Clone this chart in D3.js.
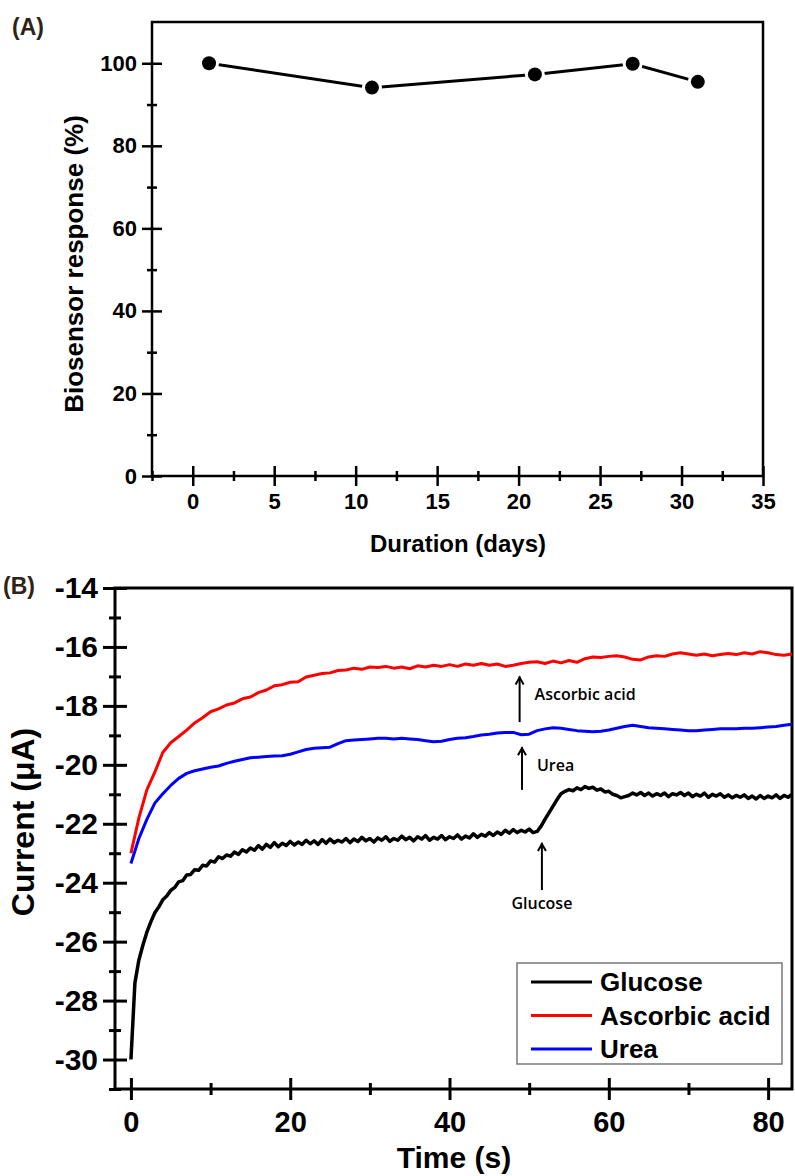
<!DOCTYPE html>
<html>
<head>
<meta charset="utf-8">
<script src="https://cdn.jsdelivr.net/npm/d3@7/dist/d3.min.js"></script>
<style>
  body { margin: 0; background: #fff; }
  svg { display: block; }
  text { font-family: "Liberation Sans", Arial, sans-serif; font-weight: bold; fill: #000; }
  .note { font-family: "Open Sans", sans-serif; font-weight: 600; }
</style>
</head>
<body>
<svg id="chart" width="795" height="1176"></svg>
<script>
// ---- panel A : storage stability ----
const stabilityDays = [1, 11, 21, 27, 31];
const stabilityResponse = [100, 94.1, 97.3, 99.9, 95.5];
const dayTicks = [0, 5, 10, 15, 20, 25, 30, 35];
const dayMinorTicks = [-2.5, 2.5, 7.5, 12.5, 17.5, 22.5, 27.5, 32.5];
const responseTicks = [0, 20, 40, 60, 80, 100];
const responseMinorTicks = [10, 30, 50, 70, 90];

// ---- panel B : interference (amperometric current) ----
const seriesNames = ['Glucose', 'Ascorbic acid', 'Urea'];
const seriesColors = ['#000000', '#ff0000', '#0000ff'];
const glucoseStep = 0.5; // s between samples
const glucoseCurrent = [
  -30.00, -27.40, -26.62, -26.12, -25.68, -25.33, -25.02, -24.82, -24.58, -24.45,
  -24.26, -24.16, -23.97, -23.93, -23.74, -23.72, -23.56, -23.58, -23.41, -23.43,
  -23.26, -23.30, -23.12, -23.18, -23.06, -23.10, -22.96, -23.04, -22.88, -22.96,
  -22.82, -22.90, -22.74, -22.86, -22.70, -22.80, -22.64, -22.78, -22.66, -22.74,
  -22.60, -22.72, -22.62, -22.70, -22.56, -22.68, -22.58, -22.70, -22.54, -22.66,
  -22.52, -22.64, -22.56, -22.62, -22.50, -22.64, -22.52, -22.60, -22.46, -22.58,
  -22.50, -22.62, -22.48, -22.56, -22.44, -22.60, -22.50, -22.56, -22.42, -22.54,
  -22.46, -22.58, -22.44, -22.52, -22.40, -22.56, -22.46, -22.52, -22.40, -22.54,
  -22.44, -22.50, -22.38, -22.52, -22.42, -22.48, -22.34, -22.46, -22.36, -22.42,
  -22.30, -22.40, -22.28, -22.36, -22.22, -22.32, -22.20, -22.30, -22.22, -22.28,
  -22.18, -22.30, -22.26, -22.08, -21.84, -21.62, -21.40, -21.18, -20.98, -20.90,
  -20.84, -20.88, -20.78, -20.84, -20.74, -20.80, -20.76, -20.86, -20.82, -20.92,
  -20.90, -21.00, -21.04, -21.12, -21.08, -21.04, -20.96, -21.02, -20.94, -21.04,
  -20.96, -21.06, -20.98, -21.04, -20.96, -21.08, -20.98, -21.02, -20.94, -21.04,
  -20.96, -21.08, -21.00, -21.06, -20.96, -21.10, -21.00, -21.06, -20.98, -21.10,
  -21.02, -21.12, -21.04, -21.10, -21.02, -21.14, -21.06, -21.16, -21.04, -21.14,
  -21.06, -21.12, -21.02, -21.14, -21.04, -21.10, -21.00
];
const interferentStep = 1; // s between samples
const ascorbicCurrent = [
  -23.00, -21.80, -20.85, -20.25, -19.58, -19.25, -19.04, -18.82, -18.58, -18.40,
  -18.20, -18.10, -17.97, -17.90, -17.76, -17.70, -17.55, -17.46, -17.32, -17.28,
  -17.20, -17.18, -17.02, -16.96, -16.90, -16.88, -16.80, -16.78, -16.72, -16.76,
  -16.68, -16.70, -16.66, -16.72, -16.68, -16.74, -16.64, -16.68, -16.62, -16.66,
  -16.60, -16.66, -16.58, -16.62, -16.56, -16.62, -16.58, -16.66, -16.62, -16.56,
  -16.52, -16.50, -16.56, -16.48, -16.54, -16.46, -16.52, -16.40, -16.34, -16.36,
  -16.32, -16.30, -16.34, -16.42, -16.44, -16.34, -16.30, -16.32, -16.24, -16.20,
  -16.24, -16.28, -16.24, -16.30, -16.26, -16.22, -16.26, -16.20, -16.24, -16.16,
  -16.20, -16.26, -16.28, -16.24
];
const ureaCurrent = [
  -23.35, -22.50, -21.85, -21.30, -20.98, -20.70, -20.46, -20.29, -20.20, -20.14,
  -20.08, -20.04, -19.95, -19.88, -19.82, -19.76, -19.74, -19.72, -19.70, -19.69,
  -19.64, -19.56, -19.48, -19.44, -19.42, -19.40, -19.28, -19.18, -19.16, -19.14,
  -19.12, -19.10, -19.10, -19.12, -19.10, -19.12, -19.14, -19.18, -19.22, -19.20,
  -19.14, -19.10, -19.08, -19.04, -18.99, -18.96, -18.92, -18.90, -18.90, -18.98,
  -18.96, -18.84, -18.78, -18.74, -18.76, -18.80, -18.84, -18.86, -18.88, -18.86,
  -18.82, -18.76, -18.70, -18.66, -18.70, -18.74, -18.76, -18.78, -18.80, -18.82,
  -18.84, -18.84, -18.82, -18.80, -18.78, -18.78, -18.78, -18.76, -18.76, -18.74,
  -18.72, -18.70, -18.66, -18.62
];
const timeTicks = [0, 20, 40, 60, 80];
const timeMinorTicks = [10, 30, 50, 70];
const currentTicks = [-30, -28, -26, -24, -22, -20, -18, -16, -14];
const currentMinorTicks = [-31, -29, -27, -25, -23, -21, -19, -17, -15];
// arrows: [label, time of injection, arrow base current, arrow tip current]
const injections = [
  ['Ascorbic acid', 48.8, -18.55, -17.0],
  ['Urea', 49.1, -20.85, -19.4],
  ['Glucose', 51.6, -24.25, -22.65]
];

const svg = d3.select('#chart');

// crossing ticks (inside + outside) like the original plotting package
function drawAxis(axis, g, vertical, len) {
  g.call(axis);
  g.select('.domain').remove();
  g.attr('font-family', null).attr('font-size', null);
  g.selectAll('.tick line')
    .attr(vertical ? 'x1' : 'y1', -len * (vertical ? -1 : 1))
    .attr('stroke', '#000');
  return g;
}

// ================= Panel A =================
const xA = d3.scaleLinear().domain([-2.5, 35]).range([152, 763]);
const yA = d3.scaleLinear().domain([0, 110]).range([476, 22]);

const panelA = svg.append('g');

panelA.append('rect')
  .attr('x', xA(-2.5)).attr('y', yA(110))
  .attr('width', xA(35) - xA(-2.5)).attr('height', yA(0) - yA(110))
  .attr('fill', 'none').attr('stroke', '#000').attr('stroke-width', 2.5);

const gxA = panelA.append('g').attr('transform', `translate(0,${yA(0)})`);
drawAxis(d3.axisBottom(xA).tickValues(dayTicks).tickSize(10).tickPadding(7), gxA, false, 10)
  .selectAll('.tick line').attr('stroke-width', 2.5);
gxA.selectAll('.tick text').attr('font-size', 22);
const gxAm = panelA.append('g').attr('transform', `translate(0,${yA(0)})`);
drawAxis(d3.axisBottom(xA).tickValues(dayMinorTicks).tickFormat(() => '').tickSize(5), gxAm, false, 5)
  .selectAll('.tick line').attr('stroke-width', 2.5);

const gyA = panelA.append('g').attr('transform', `translate(${xA(-2.5)},0)`);
drawAxis(d3.axisLeft(yA).tickValues(responseTicks).tickSize(10).tickPadding(5), gyA, true, 10)
  .selectAll('.tick line').attr('stroke-width', 2.5);
gyA.selectAll('.tick text').attr('font-size', 22);
const gyAm = panelA.append('g').attr('transform', `translate(${xA(-2.5)},0)`);
drawAxis(d3.axisLeft(yA).tickValues(responseMinorTicks).tickFormat(() => '').tickSize(5), gyAm, true, 5)
  .selectAll('.tick line').attr('stroke-width', 2.5);

const stability = stabilityDays.map((d, i) => ({ day: d, value: stabilityResponse[i] }));

panelA.append('path')
  .datum(stability)
  .attr('fill', 'none')
  .attr('stroke', '#000')
  .attr('stroke-width', 3)
  .attr('d', d3.line().x(d => xA(d.day)).y(d => yA(d.value)));

// white halo gives the small gap between line and symbol
panelA.selectAll('circle.halo')
  .data(stability)
  .join('circle')
  .attr('class', 'halo')
  .attr('cx', d => xA(d.day)).attr('cy', d => yA(d.value))
  .attr('r', 10).attr('fill', '#fff');
panelA.selectAll('circle.dot')
  .data(stability)
  .join('circle')
  .attr('class', 'dot')
  .attr('cx', d => xA(d.day)).attr('cy', d => yA(d.value))
  .attr('r', 7).attr('fill', '#000');

panelA.append('text')
  .attr('x', 458).attr('y', 552)
  .attr('text-anchor', 'middle').attr('font-size', 24)
  .text('Duration (days)');
panelA.append('text')
  .attr('transform', 'translate(83,264) rotate(-90)')
  .attr('text-anchor', 'middle').attr('font-size', 26)
  .text('Biosensor response (%)');
panelA.append('text')
  .attr('x', 12).attr('y', 35).attr('font-size', 23)
  .style('fill', '#2e2316')
  .text('(A)');

// ================= Panel B =================
const xB = d3.scaleLinear().domain([-2, 83]).range([115, 792]);
const yB = d3.scaleLinear().domain([-31, -14]).range([1089, 588]);

const panelB = svg.append('g');

panelB.append('rect')
  .attr('x', xB(-2)).attr('y', yB(-14))
  .attr('width', xB(83) - xB(-2)).attr('height', yB(-31) - yB(-14))
  .attr('fill', 'none').attr('stroke', '#000').attr('stroke-width', 3);

const gxB = panelB.append('g').attr('transform', `translate(0,${yB(-31)})`);
drawAxis(d3.axisBottom(xB).tickValues(timeTicks).tickSize(11).tickPadding(11), gxB, false, 11)
  .selectAll('.tick line').attr('stroke-width', 3);
gxB.selectAll('.tick text').attr('font-size', 29);
const gxBm = panelB.append('g').attr('transform', `translate(0,${yB(-31)})`);
drawAxis(d3.axisBottom(xB).tickValues(timeMinorTicks).tickFormat(() => '').tickSize(6), gxBm, false, 6)
  .selectAll('.tick line').attr('stroke-width', 3);

// plain hyphen for the minus sign, as in the original figure
const gyB = panelB.append('g').attr('transform', `translate(${xB(-2)},0)`);
drawAxis(d3.axisLeft(yB).tickValues(currentTicks).tickFormat(d => String(d)).tickSize(12).tickPadding(5), gyB, true, 12)
  .selectAll('.tick line').attr('stroke-width', 3);
gyB.selectAll('.tick text').attr('font-size', 30);
const gyBm = panelB.append('g').attr('transform', `translate(${xB(-2)},0)`);
drawAxis(d3.axisLeft(yB).tickValues(currentMinorTicks).tickFormat(() => '').tickSize(6), gyBm, true, 6)
  .selectAll('.tick line').attr('stroke-width', 3);

const series = [
  glucoseCurrent.map((v, i) => ({ t: i * glucoseStep, v })),
  ascorbicCurrent.map((v, i) => ({ t: i * interferentStep, v })),
  ureaCurrent.map((v, i) => ({ t: i * interferentStep, v }))
];
const lineB = d3.line().x(d => xB(d.t)).y(d => yB(d.v));

panelB.selectAll('path.trace')
  .data(series)
  .join('path')
  .attr('class', 'trace')
  .attr('fill', 'none')
  .attr('stroke', (d, i) => seriesColors[i])
  .attr('stroke-width', (d, i) => i === 0 ? 3.5 : 3)
  .attr('stroke-linejoin', 'round')
  .attr('d', lineB);

// injection arrows with their labels
const arrows = panelB.selectAll('g.arrow')
  .data(injections)
  .join('g')
  .attr('class', 'arrow');
arrows.append('line')
  .attr('x1', d => xB(d[1])).attr('x2', d => xB(d[1]))
  .attr('y1', d => yB(d[2])).attr('y2', d => yB(d[3]))
  .attr('stroke', '#000').attr('stroke-width', 2);
arrows.append('path')
  .attr('d', d => `M${xB(d[1]) - 4},${yB(d[3]) + 8}L${xB(d[1])},${yB(d[3]) + 1}L${xB(d[1]) + 4},${yB(d[3]) + 8}`)
  .attr('fill', 'none').attr('stroke', '#000').attr('stroke-width', 2);
arrows.append('text')
  .attr('class', 'note')
  .attr('font-size', 16)
  .attr('text-anchor', d => d[0] === 'Glucose' ? 'middle' : 'start')
  .attr('x', d => d[0] === 'Glucose' ? xB(d[1]) : xB(d[1]) + 15)
  .attr('y', d => d[0] === 'Glucose' ? yB(d[2]) + 19 : yB(d[3]) + 24)
  .text(d => d[0]);

// legend
const legend = panelB.append('g').attr('transform', 'translate(517,963)');
legend.append('rect')
  .attr('width', 265).attr('height', 101)
  .attr('fill', '#fff').attr('stroke', '#777').attr('stroke-width', 1.5);
const items = legend.selectAll('g.item')
  .data(seriesNames)
  .join('g')
  .attr('class', 'item')
  .attr('transform', (d, i) => `translate(0,${19 + i * 33.5})`);
items.append('line')
  .attr('x1', 14).attr('x2', 75)
  .attr('stroke', (d, i) => seriesColors[i]).attr('stroke-width', 3);
items.append('text')
  .attr('x', 83).attr('y', 9).attr('font-size', 26)
  .text(d => d);

panelB.append('text')
  .attr('x', 454).attr('y', 1168)
  .attr('text-anchor', 'middle').attr('font-size', 30)
  .text('Time (s)');
panelB.append('text')
  .attr('transform', 'translate(34,822) rotate(-90)')
  .attr('text-anchor', 'middle').attr('font-size', 32)
  .text('Current (\u03bcA)');
panelB.append('text')
  .attr('x', 3).attr('y', 594).attr('font-size', 23)
  .style('fill', '#2e2316')
  .text('(B)');
</script>
</body>
</html>
